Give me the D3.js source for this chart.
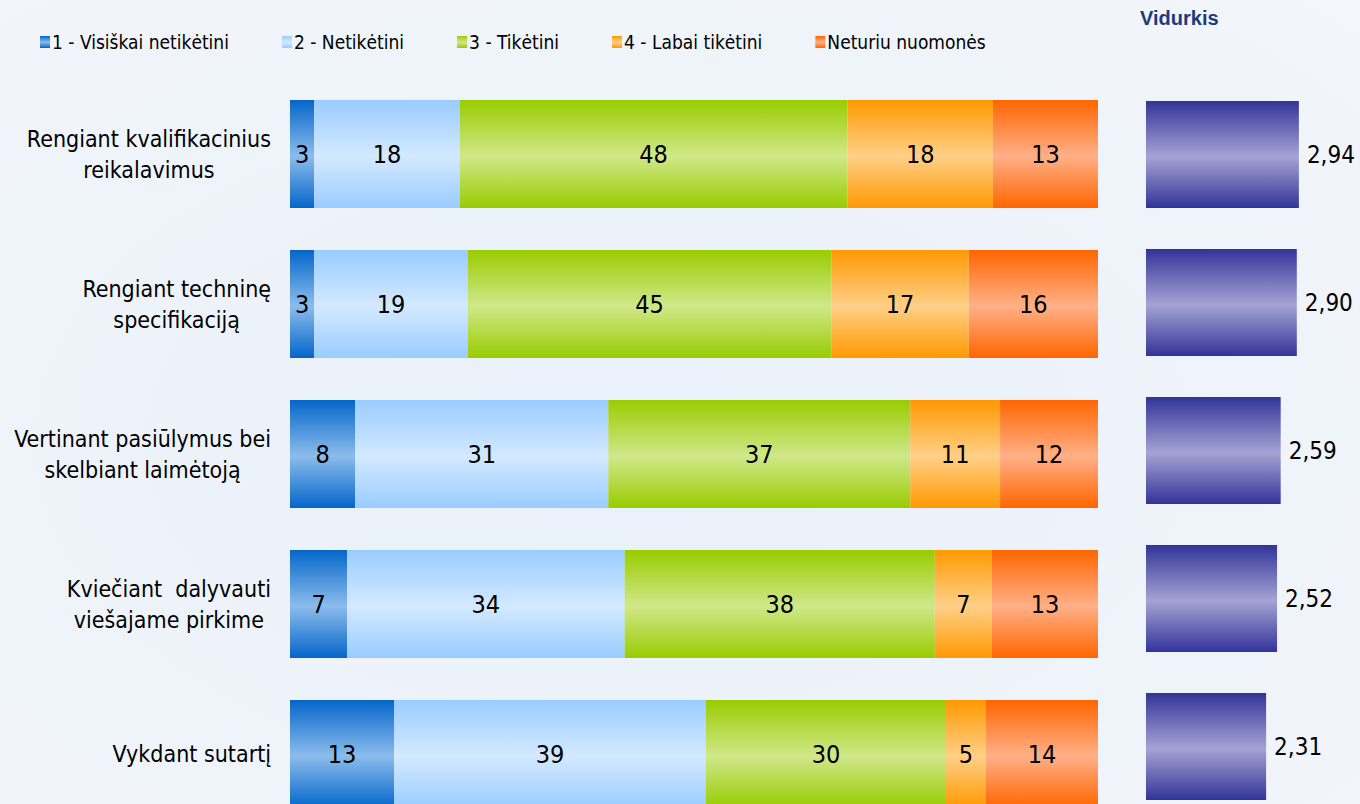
<!DOCTYPE html>
<html>
<head>
<meta charset="utf-8">
<script src="https://cdn.jsdelivr.net/npm/d3@7"></script>
<style>
    html, body {
        margin: 0;
        padding: 0;
        background: #f0f4fa;
    }
    svg {
        display: block;
    }
    text {
        font-family: "DejaVu Sans Condensed", "DejaVu Sans", sans-serif;
        fill: #000;
        white-space: pre;
    }
    .title {
        font-family: "Liberation Sans", Arial, sans-serif;
        font-weight: bold;
        fill: #1d3a7c;
    }
</style>
</head>
<body>
<div id="chart"></div>
<script>
const WIDTH = 1360;
const HEIGHT = 804;

// categories (rows), one per bar
const categories = [
    'Rengiant kvalifikacinius\nreikalavimus',
    'Rengiant techninę\nspecifikaciją',
    'Vertinant pasiūlymus bei\nskelbiant laimėtoją',
    'Kviečiant  dalyvauti\nviešajame pirkime',
    'Vykdant sutartį'
];

const seriesNames = ['1 - Visiškai netikėtini', '2 - Netikėtini', '3 - Tikėtini', '4 - Labai tikėtini', 'Neturiu nuomonės'];

// percentages per series
const visiskaiNetiketini = [3, 3, 8, 7, 13];
const netiketini = [18, 19, 31, 34, 39];
const tiketini = [48, 45, 37, 38, 30];
const labaiTiketini = [18, 17, 11, 7, 5];
const neturiuNuomones = [13, 16, 12, 13, 14];

// average score per row
const vidurkis = [2.94, 2.90, 2.59, 2.52, 2.31];

// gradient colours: [edge, middle]
const seriesColors = [
    ['#0466ca', '#8cbcec'],
    ['#99ccff', '#d4e9ff'],
    ['#99cc00', '#d0e88a'],
    ['#ff9900', '#ffd088'],
    ['#ff6600', '#ffb088']
];
const avgColors = ['#333399', '#a4a4d4'];

const seriesValues = [visiskaiNetiketini, netiketini, tiketini, labaiTiketini, neturiuNuomones];
const keys = seriesNames;
const rows = categories.map((c, i) => {
    const row = { category: c };
    keys.forEach((k, j) => { row[k] = seriesValues[j][i]; });
    return row;
});

const svg = d3.select('#chart').append('svg')
    .attr('width', WIDTH)
    .attr('height', HEIGHT);

const defs = svg.append('defs');

// soft background
const bg = defs.append('radialGradient').attr('id', 'bg').attr('cx', '0.45').attr('cy', '0.55').attr('r', '0.8');
bg.append('stop').attr('offset', 0).attr('stop-color', '#e9f0f9');
bg.append('stop').attr('offset', 1).attr('stop-color', '#f3f6fb');
svg.append('rect').attr('width', WIDTH).attr('height', HEIGHT).attr('fill', 'url(#bg)');

function makeGradient(id, c) {
    const g = defs.append('linearGradient').attr('id', id)
        .attr('x1', 0).attr('y1', 0).attr('x2', 0).attr('y2', 1);
    g.append('stop').attr('offset', 0).attr('stop-color', c[0]);
    g.append('stop').attr('offset', 0.52).attr('stop-color', c[1]);
    g.append('stop').attr('offset', 1).attr('stop-color', c[0]);
}
seriesColors.forEach((c, i) => makeGradient('grad' + i, c));
makeGradient('gradAvg', avgColors);

// scales
const x = d3.scaleLinear().domain([0, 1]).range([290, 1098]);
const y = d3.scaleBand().domain(categories).range([100, 808]).paddingInner(0.28).paddingOuter(0);

const xAvg = d3.scaleLinear().domain([0, 3]).range([1146, 1302]);
const yAvg = d3.scaleBand().domain(categories).range([101, 800]).paddingInner(0.277).paddingOuter(0);

const stack = d3.stack().keys(keys).offset(d3.stackOffsetExpand);
const stacked = stack(rows);

// stacked bars
const layers = svg.append('g').selectAll('g')
    .data(stacked)
    .join('g')
        .attr('fill', (d, i) => 'url(#grad' + i + ')');

layers.selectAll('rect')
    .data(d => d)
    .join('rect')
        .attr('x', d => x(d[0]))
        .attr('y', d => y(d.data.category))
        .attr('width', d => x(d[1]) - x(d[0]))
        .attr('height', y.bandwidth());

layers.each(function(layer) {
    d3.select(this).selectAll('text')
        .data(layer)
        .join('text')
            .attr('x', d => (x(d[0]) + x(d[1])) / 2)
            .attr('y', d => y(d.data.category) + y.bandwidth() / 2)
            .attr('dy', '0.36em')
            .attr('text-anchor', 'middle')
            .style('font-size', '25px')
            .text(d => d.data[layer.key]);
});

// category labels: lines centred inside a block that ends at x=271
const labels = svg.append('g').selectAll('text')
    .data(categories)
    .join('text')
        .style('font-size', '23px')
        .attr('text-anchor', 'middle');

labels.each(function(c) {
    const t = d3.select(this);
    const lines = c.split('\n');
    const lineHeight = 31;
    const cy = y(c) + y.bandwidth() / 2;
    const top = cy - (lines.length - 1) * lineHeight / 2;
    lines.forEach((l, i) => {
        t.append('tspan')
            .attr('y', top + i * lineHeight)
            .attr('dy', '0.36em')
            .text(l);
    });
    let maxW = 0;
    t.selectAll('tspan').each(function() {
        maxW = Math.max(maxW, this.getComputedTextLength());
    });
    t.selectAll('tspan').attr('x', 271 - maxW / 2);
});

// average bars
const fmt = d3.formatLocale({ decimal: ',', thousands: ' ', grouping: [3], currency: ['', ''] }).format('.2f');

svg.append('g').selectAll('rect')
    .data(vidurkis)
    .join('rect')
        .attr('x', xAvg(0))
        .attr('y', (d, i) => yAvg(categories[i]))
        .attr('width', d => xAvg(d) - xAvg(0))
        .attr('height', yAvg.bandwidth())
        .attr('fill', 'url(#gradAvg)');

svg.append('g').selectAll('text')
    .data(vidurkis)
    .join('text')
        .attr('x', d => xAvg(d) + 8)
        .attr('y', (d, i) => yAvg(categories[i]) + yAvg.bandwidth() / 2)
        .attr('dy', '0.36em')
        .style('font-size', '24px')
        .text(d => fmt(d));

svg.append('text')
    .attr('class', 'title')
    .attr('x', 1140)
    .attr('y', 25)
    .style('font-size', '20px')
    .text('Vidurkis');

// legend
const legend = svg.append('g');
let lx = 40;
seriesNames.forEach((name, i) => {
    legend.append('rect')
        .attr('x', lx)
        .attr('y', 36)
        .attr('width', 10)
        .attr('height', 12)
        .attr('fill', 'url(#grad' + i + ')');
    const t = legend.append('text')
        .attr('x', lx + 12)
        .attr('y', 42)
        .attr('dy', '0.36em')
        .style('font-size', '19px')
        .text(name);
    lx += 12 + t.node().getComputedTextLength() + 53;
});
</script>
</body>
</html>
